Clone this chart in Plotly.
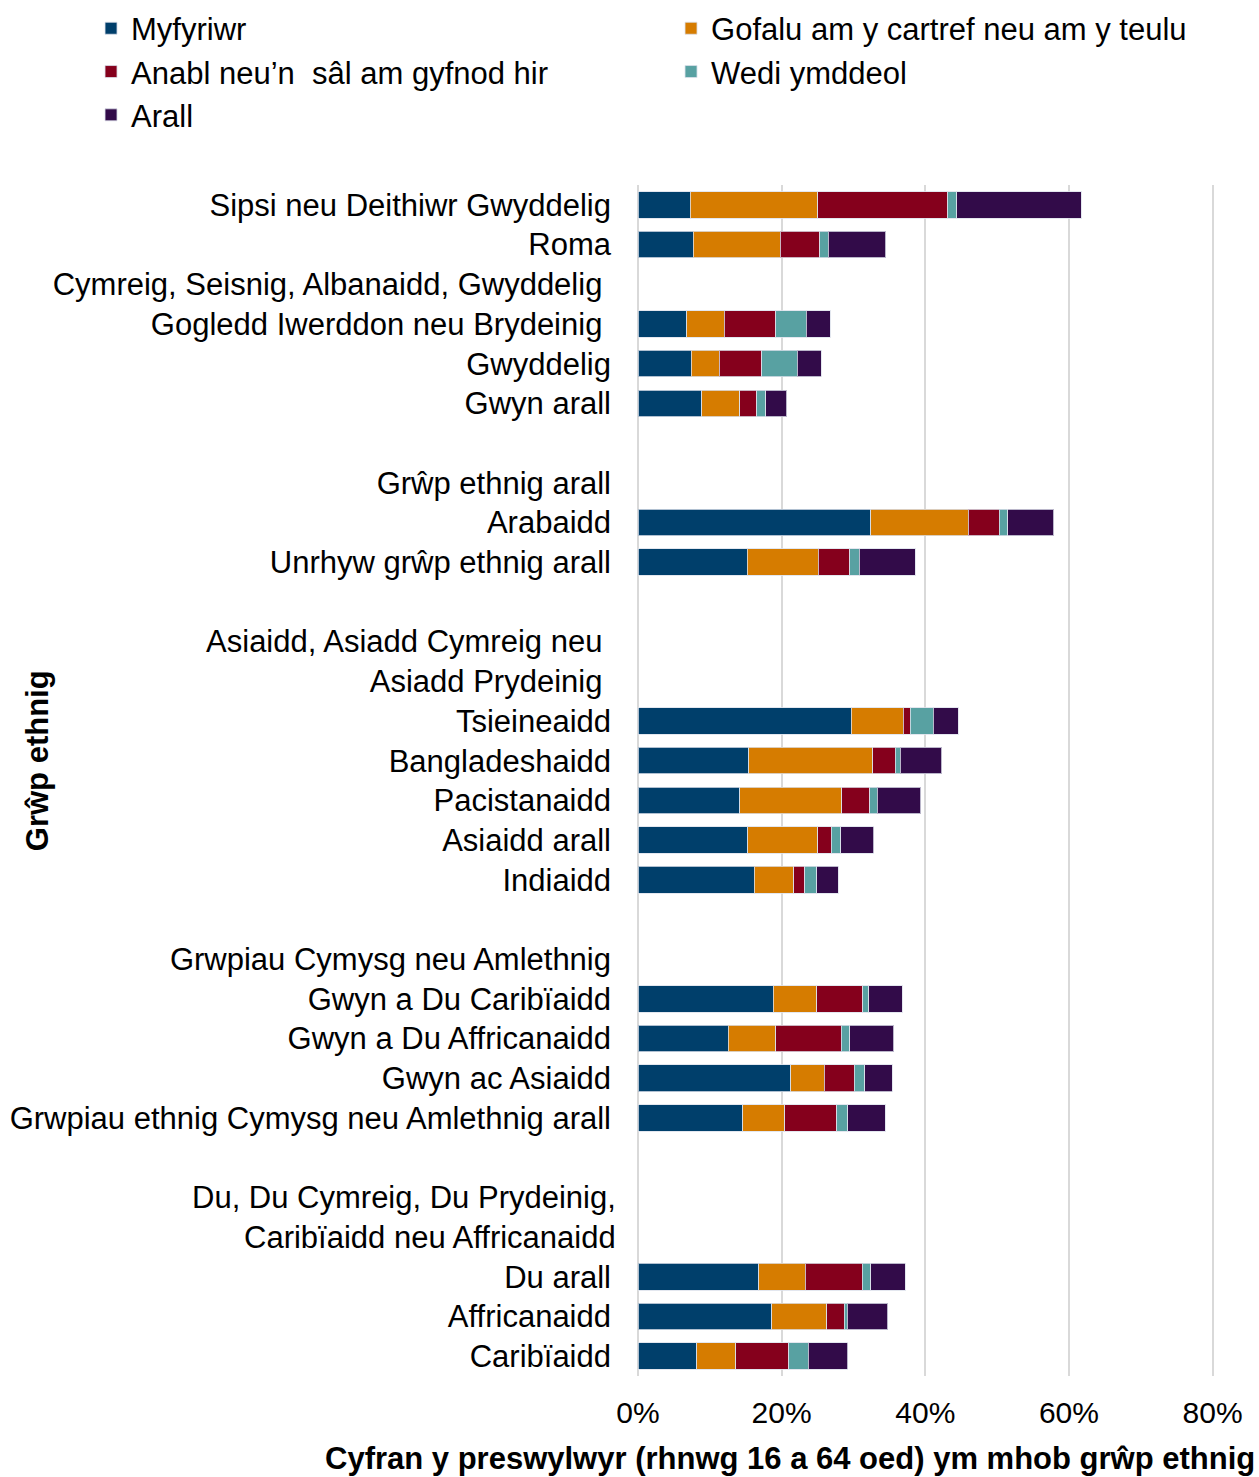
import plotly.graph_objects as go

# Rows of the chart, top to bottom (header lines and gaps have no bar)
row_labels = [
    "Sipsi neu Deithiwr Gwyddelig", "Roma",
    "Cymreig, Seisnig, Albanaidd, Gwyddelig\u00a0", "Gogledd Iwerddon neu Brydeinig\u00a0",
    "Gwyddelig", "Gwyn arall", "",
    "Grŵp ethnig arall", "Arabaidd", "Unrhyw grŵp ethnig arall", " ",
    "Asiaidd, Asiadd Cymreig neu\u00a0", "Asiadd Prydeinig\u00a0",
    "Tsieineaidd", "Bangladeshaidd", "Pacistanaidd", "Asiaidd arall", "Indiaidd", "  ",
    "Grwpiau Cymysg neu Amlethnig", "Gwyn a Du Caribïaidd", "Gwyn a Du Affricanaidd",
    "Gwyn ac Asiaidd", "Grwpiau ethnig Cymysg neu Amlethnig arall", "   ",
    "Du, Du Cymreig, Du Prydeinig,", "Caribïaidd neu Affricanaidd",
    "Du arall", "Affricanaidd", "Caribïaidd",
]
# header lines that sit a little further right than the other labels
shifted_labels = ["Du, Du Cymreig, Du Prydeinig,", "Caribïaidd neu Affricanaidd"]

# Bars (ethnic groups) in the same top-to-bottom order
groups = [
    "Sipsi neu Deithiwr Gwyddelig", "Roma", "Gogledd Iwerddon neu Brydeinig\u00a0",
    "Gwyddelig", "Gwyn arall", "Arabaidd", "Unrhyw grŵp ethnig arall",
    "Tsieineaidd", "Bangladeshaidd", "Pacistanaidd", "Asiaidd arall", "Indiaidd",
    "Gwyn a Du Caribïaidd", "Gwyn a Du Affricanaidd", "Gwyn ac Asiaidd",
    "Grwpiau ethnig Cymysg neu Amlethnig arall",
    "Du arall", "Affricanaidd", "Caribïaidd",
]

myfyriwr = [7.3, 7.7, 6.8, 7.4, 8.9, 32.4, 15.2, 29.7, 15.4, 14.2, 15.3, 16.2,
            18.8, 12.6, 21.3, 14.6, 16.8, 18.6, 8.2]
gofalu = [17.7, 12.1, 5.2, 3.9, 5.3, 13.6, 9.9, 7.2, 17.3, 14.2, 9.7, 5.5,
          6.1, 6.6, 4.6, 5.8, 6.5, 7.7, 5.4]
anabl = [18.1, 5.5, 7.2, 5.9, 2.3, 4.3, 4.4, 1.0, 3.1, 3.9, 1.9, 1.5,
         6.4, 9.1, 4.2, 7.3, 7.9, 2.4, 7.4]
wedi = [1.3, 1.2, 4.2, 5.0, 1.3, 1.2, 1.3, 3.2, 0.7, 1.0, 1.3, 1.7,
        0.8, 1.2, 1.5, 1.5, 1.2, 0.4, 2.7]
arall = [17.3, 8.0, 3.4, 3.3, 2.9, 6.4, 7.8, 3.5, 5.8, 6.1, 4.6, 3.0,
         4.7, 6.1, 3.8, 5.2, 4.8, 5.7, 5.5]

x_ticks = [0, 20, 40, 60, 80]
x_tick_labels = ["0%", "20%", "40%", "60%", "80%"]

series = [
    ("Myfyriwr", myfyriwr, "#003f6b"),
    ("Gofalu am y cartref neu am y teulu", gofalu, "#d67c00"),
    ("Anabl neu’n  sâl am gyfnod hir", anabl, "#85001c"),
    ("Wedi ymddeol", wedi, "#58a1a2"),
    ("Arall", arall, "#320b49"),
]

FONT = "Liberation Sans, Arial, sans-serif"
ypos = [row_labels.index(g) for g in groups]

fig = go.Figure()
for name, vals, col in series:
    fig.add_trace(go.Bar(
        y=ypos, x=vals, name=name, orientation="h", width=0.67,
        marker=dict(color=col, line=dict(color="rgba(220,225,235,0.8)", width=1)),
    ))

fig.update_layout(
    barmode="stack",
    width=1259, height=1477,
    margin=dict(l=638, r=45, t=185, b=101, autoexpand=False),
    paper_bgcolor="white", plot_bgcolor="white",
    font=dict(family=FONT, size=31, color="black"),
    legend=dict(
        orientation="h", x=-0.9496, y=1.154, xanchor="left", yanchor="top",
        entrywidth=535, font=dict(size=31), traceorder="normal",
    ),
)

tick_text = ["" if t in shifted_labels else t for t in row_labels]
for t in shifted_labels:
    fig.add_annotation(text=t, xref="paper", x=0, xanchor="right", xshift=-20,
                       yref="y", y=row_labels.index(t), showarrow=False,
                       font=dict(size=31))

fig.add_annotation(
    text="<b>Cyfran y preswylwyr (rhnwg 16 a 64 oed) ym mhob grŵp ethnig</b>",
    xref="paper", x=1.0748, xanchor="right", yref="paper", y=-0.069,
    yanchor="middle", showarrow=False, font=dict(size=31),
)
fig.add_annotation(
    text="<b>Grŵp ethnig</b>", textangle=-90,
    xref="paper", x=-1.0435, xanchor="center", yref="paper", y=0.517,
    yanchor="middle", showarrow=False, font=dict(size=31),
)

# range a hair past 80 so the 80% gridline is drawn
fig.update_xaxes(
    range=[0, 80.2], tickvals=x_ticks, ticktext=x_tick_labels,
    showgrid=True, gridcolor="#d9d9d9", gridwidth=2,
    zeroline=True, zerolinecolor="#d9d9d9", zerolinewidth=2,
    tickfont=dict(size=30), ticks="", ticklabelstandoff=16,
)
fig.update_yaxes(
    range=[len(row_labels) - 0.5, -0.5],
    tickvals=list(range(len(row_labels))), ticktext=tick_text,
    showgrid=False, ticks="", ticklabelstandoff=26,
    tickfont=dict(size=31),
)

# drop the browser's default 8px page margin so the figure fills the window
fig.write_html("out.html", config={"displayModeBar": False},
               post_script="document.body.style.margin='0px';")
